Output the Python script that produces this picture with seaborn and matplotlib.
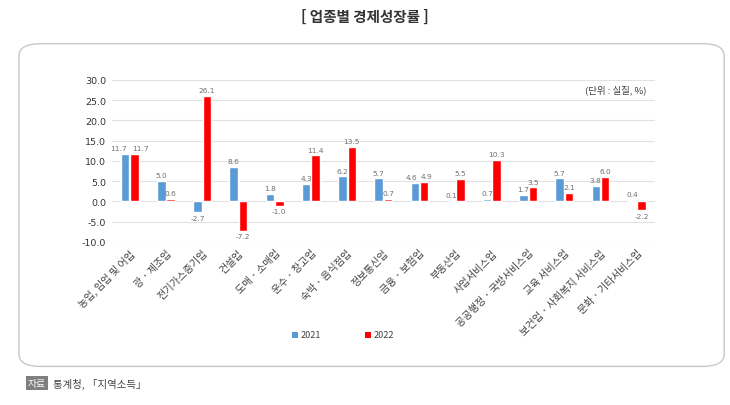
"""
업종별 경제성장률 chart (2021 vs 2022)
"""

import pandas as pd
import seaborn as sns
import matplotlib.pyplot as plt
from matplotlib.patches import FancyBboxPatch

categories = [
    "농업, 임업 및 어업", "광 · 제조업", "전기가스증기업", "건설업", "도매 · 소매업",
    "운수 · 창고업", "숙박 · 음식점업", "정보통신업", "금융 · 보험업", "부동산업",
    "사업서비스업", "공공행정 · 국방서비스업", "교육 서비스업",
    "보건업 · 사회복지 서비스업", "문화 · 기타서비스업",
]
values_2021 = [11.7, 5.0, -2.7, 8.6, 1.8, 4.3, 6.2, 5.7, 4.6, 0.1, 0.7, 1.7, 5.7, 3.8, 0.4]
values_2022 = [11.7, 0.6, 26.1, -7.2, -1.0, 11.4, 13.5, 0.7, 4.9, 5.5, 10.3, 3.5, 2.1, 6.0, -2.2]
years = ["2021", "2022"]
y_ticks = [-10, -5, 0, 5, 10, 15, 20, 25, 30]

df = pd.DataFrame({
    "업종": categories * 2,
    "연도": [years[0]] * len(categories) + [years[1]] * len(categories),
    "성장률": values_2021 + values_2022,
})

sns.set_theme(style="white")
plt.rcParams["font.family"] = ["Noto Sans CJK KR", "DejaVu Sans"]

fig = plt.figure(figsize=(7.3, 4.06), dpi=100)
fig.patch.set_facecolor("white")

# rounded frame around the chart
frame = FancyBboxPatch((0.026, 0.095), 0.966, 0.795,
                       boxstyle="round,pad=0,rounding_size=0.03",
                       transform=fig.transFigure, facecolor="white",
                       edgecolor="#c8c8c8", linewidth=1.0, zorder=-5)
fig.patches.append(frame)

ax = fig.add_axes([0.153, 0.4015, 0.744, 0.399])
ax.set_facecolor("none")
ax.set_zorder(2)

palette = {"2021": "#5b9bd5", "2022": "#ff0000"}
sns.barplot(data=df, x="업종", y="성장률", hue="연도", palette=palette,
            width=0.52, gap=0.1, ax=ax, legend=False, saturation=1)

# label nudges (points) for crowded groups: {group index: (2021 dx, 2022 dx)}
nudges = {0: (-5, 4), 8: (-2, 2)}
for i, cont in enumerate(ax.containers):
    labels = ax.bar_label(cont, fmt="%.1f", padding=2, fontsize=5.3, color="#707070",
                          family=["DejaVu Sans"])
    for g, d in nudges.items():
        labels[g].xyann = (d[i], labels[g].xyann[1])

ax.set_ylim(-10, 30)
ax.set_yticks(y_ticks)
ax.set_yticklabels([f"{v:.1f}" for v in y_ticks], fontsize=6.8, color="#333333",
                   family=["DejaVu Sans"])
ax.yaxis.grid(True, color="#e2e2e2", linewidth=0.8)
ax.set_axisbelow(True)
ax.set_xlim(-0.5, len(categories) - 0.5)
for s in ax.spines.values():
    s.set_visible(False)
ax.tick_params(axis="both", length=0, pad=4)
ax.set_xticks(range(len(categories)))
ax.set_xticklabels(categories, rotation=45, ha="right", rotation_mode="anchor",
                   fontsize=7.3, color="#404040")
ax.set_xlabel("")
ax.set_ylabel("")

ax.text(0.985, 0.94, "(단위 : 실질, %)", transform=ax.transAxes, ha="right", va="center",
        fontsize=6.8, color="#404040")

# legend
for x, yr in [(0.40, "2021"), (0.50, "2022")]:
    fig.patches.append(FancyBboxPatch((x, 0.166), 0.008, 0.014, boxstyle="square,pad=0",
                                      transform=fig.transFigure, facecolor=palette[yr],
                                      edgecolor="none"))
    fig.text(x + 0.012, 0.173, yr, ha="left", va="center", fontsize=6.5, color="#404040")

fig.text(0.5, 0.958, "[ 업종별 경제성장률 ]", ha="center", va="center",
         fontsize=10.5, fontweight="bold", color="#333333")

fig.text(0.038, 0.054, "자료", ha="left", va="center", fontsize=7, color="white",
         bbox=dict(boxstyle="square,pad=0.2", facecolor="#7f7f7f", edgecolor="none"))
fig.text(0.072, 0.054, "통계청, 「지역소득」", ha="left", va="center", fontsize=7.5,
         color="#404040")

fig.savefig("out.png", dpi=100)
